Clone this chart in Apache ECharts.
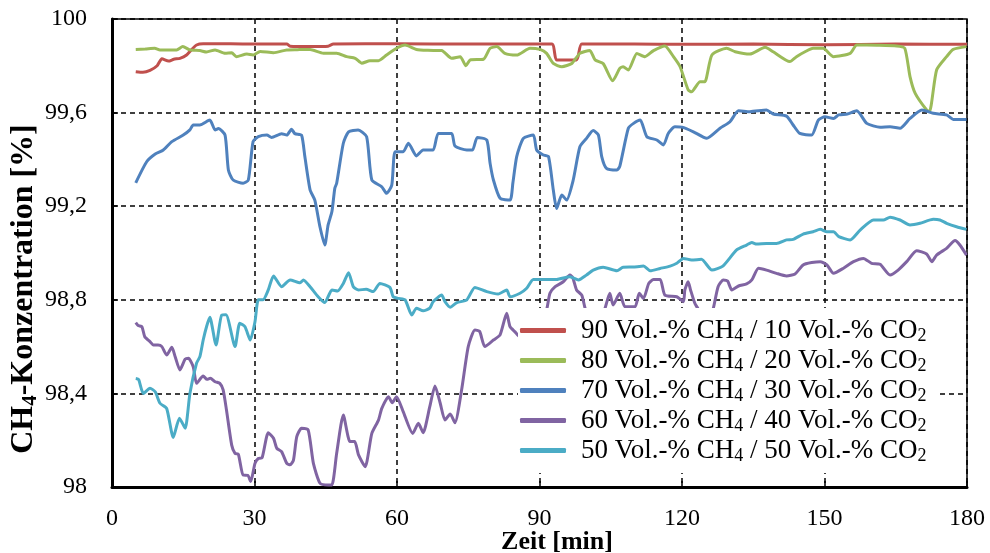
<!DOCTYPE html>
<html>
<head>
<meta charset="utf-8">
<title>CH4-Konzentration</title>
<script src="https://cdn.jsdelivr.net/npm/echarts@6/dist/echarts.min.js"></script>
<style>
  html, body { margin: 0; padding: 0; background: #fff; }
  #chart { width: 990px; height: 553px; }
</style>
</head>
<body>
<div id="chart"></div>
<script>
// Gas mixtures: CH4 share / CO2 share in Vol.-%
const ch4Share = ['90', '80', '70', '60', '50'];
const co2Share = ['10', '20', '30', '40', '50'];
const lineColors = ['#C0504D', '#9BBB59', '#4F81BD', '#8064A2', '#4BACC6'];

// Axis ticks
const xTicks = [0, 30, 60, 90, 120, 150, 180];
const yTicks = [98, 98.4, 98.8, 99.2, 99.6, 100];

// Measured CH4 concentration [%] over time [min]
const mix90 = [[5,99.775],[6.5,99.772],[8,99.78],[9.5,99.80],[10.5,99.83],[11.9,99.82],[13,99.828],[14.3,99.832],[15.7,99.846],[16.8,99.87],[17.8,99.889],[19.2,99.894],[25,99.894],[30,99.893],[36.8,99.893],[37.5,99.884],[42,99.882],[45.5,99.884],[46.6,99.893],[60,99.894],[75,99.893],[92.6,99.893],[93.6,99.825],[97.8,99.825],[98.9,99.893],[110,99.893],[120,99.892],[135,99.893],[150,99.890],[165,99.893],[180,99.892]];

const mix80 = [[5,99.870],[7,99.872],[9,99.875],[10.1,99.868],[13.6,99.868],[14.9,99.882],[16.4,99.868],[18.5,99.865],[19.9,99.859],[21.7,99.868],[23.8,99.854],[25.2,99.856],[26.2,99.839],[28.4,99.850],[29.7,99.846],[31.2,99.861],[34,99.856],[36.8,99.868],[39,99.869],[41.7,99.870],[44.5,99.854],[47.3,99.854],[49.4,99.839],[51.2,99.832],[52.6,99.811],[54.3,99.822],[56.1,99.822],[57.8,99.846],[59.9,99.875],[61.7,99.889],[64.1,99.870],[66.5,99.866],[69.4,99.865],[71.5,99.832],[73.3,99.839],[74.5,99.80],[75.4,99.825],[78.2,99.828],[79.6,99.875],[81,99.882],[82.7,99.853],[85.2,99.846],[88,99.875],[90.1,99.870],[91.5,99.853],[92.9,99.81],[94.7,99.796],[96.8,99.81],[98.5,99.853],[100.6,99.865],[101.7,99.825],[103.4,99.81],[105.4,99.736],[106.9,99.789],[107.6,99.796],[108.7,99.782],[110.5,99.853],[112.2,99.839],[114,99.865],[116.4,99.885],[118.2,99.839],[119.6,99.796],[121.3,99.697],[122,99.689],[123.8,99.732],[124.8,99.732],[126.3,99.846],[129.4,99.875],[131.2,99.860],[134.3,99.850],[137.5,99.879],[139.2,99.860],[142.7,99.818],[144.1,99.839],[145.9,99.86],[147.6,99.875],[149.7,99.875],[151.9,99.839],[155.4,99.853],[156.8,99.889],[161,99.888],[165.2,99.885],[166.9,99.875],[168,99.754],[169.1,99.682],[171.5,99.611],[172.1,99.604],[173.6,99.782],[175.7,99.839],[177.1,99.870],[179.9,99.882]];

const mix70 = [[5,99.30],[7.3,99.39],[9.1,99.423],[10.8,99.44],[12.6,99.476],[15,99.504],[16.4,99.526],[17.1,99.547],[18.5,99.547],[20.6,99.568],[21.7,99.526],[22.4,99.532],[23.8,99.504],[24.5,99.355],[25.5,99.312],[27.6,99.298],[28.7,99.312],[29.7,99.476],[30.8,99.497],[32.6,99.504],[33.6,99.494],[35.7,99.51],[36.8,99.504],[37.8,99.529],[38.5,99.51],[39.9,99.504],[40.6,99.412],[41.7,99.27],[42.7,99.226],[43.8,99.11],[44.8,99.034],[45.5,99.12],[46.3,99.177],[46.9,99.276],[47.3,99.298],[48.7,99.469],[49.8,99.518],[51.8,99.526],[53.6,99.497],[54.7,99.312],[56.8,99.283],[57.8,99.255],[58.9,99.29],[59.6,99.433],[61.3,99.433],[62.4,99.469],[64.1,99.415],[65.5,99.44],[67.6,99.44],[68.7,99.511],[71.5,99.511],[72.2,99.457],[74.7,99.44],[75.9,99.44],[76.9,99.494],[78.9,99.483],[79.6,99.383],[80.3,99.312],[81.7,99.234],[83.8,99.226],[84.4,99.30],[85.2,99.412],[86.6,99.49],[88.7,99.504],[89.4,99.44],[90.8,99.419],[91.9,99.412],[92.9,99.27],[93.6,99.19],[94.7,99.248],[95.7,99.226],[97.1,99.312],[98.5,99.454],[99.9,99.49],[101.3,99.523],[102.4,99.504],[103.1,99.412],[104.1,99.362],[106.3,99.355],[106.9,99.37],[108.7,99.533],[109.8,99.554],[111.2,99.568],[112.6,99.497],[114.7,99.483],[116.1,99.462],[117.1,99.511],[118.5,99.54],[120,99.538],[122.4,99.518],[125.2,99.49],[128,99.533],[130.1,99.561],[131.9,99.608],[134.3,99.604],[137.8,99.611],[139.2,99.594],[142,99.585],[143.4,99.547],[144.8,99.511],[147.3,99.504],[148.7,99.568],[150.1,99.582],[151.9,99.575],[153,99.59],[154.8,99.594],[156.8,99.608],[158.9,99.554],[161.7,99.537],[163.8,99.54],[165.9,99.533],[168,99.575],[170.5,99.611],[172.9,99.597],[175.7,99.59],[177.1,99.571],[179.9,99.571]];

const mix60 = [[5,98.702],[5.5,98.69],[6.3,98.685],[6.9,98.642],[8,98.621],[8.7,98.607],[9.7,98.607],[10.5,98.60],[11.5,98.564],[12.6,98.597],[13.3,98.557],[14.3,98.50],[15.4,98.546],[16.1,98.55],[17.1,98.514],[17.8,98.443],[19.2,98.474],[20,98.46],[20.7,98.465],[21.7,98.45],[22.7,98.443],[23.4,98.415],[24.1,98.329],[25.2,98.179],[25.9,98.144],[26.6,98.14],[27.6,98.051],[28.6,98.05],[29.2,98.023],[30.1,98.101],[30.8,98.122],[31.6,98.125],[32.9,98.232],[34,98.208],[34.7,98.165],[35.7,98.151],[36.8,98.101],[37.5,98.095],[38.2,98.115],[38.9,98.215],[39.9,98.251],[41.3,98.244],[42.4,98.101],[43.8,98.016],[45.5,98.009],[46.3,98.009],[47.3,98.144],[48.7,98.308],[50.1,98.194],[51.1,98.194],[51.9,98.137],[53.3,98.087],[54.7,98.229],[56.1,98.286],[56.8,98.336],[58.2,98.386],[59,98.36],[59.9,98.386],[61.3,98.322],[63.3,98.229],[64.5,98.272],[65.5,98.232],[66.9,98.343],[68,98.432],[69.1,98.358],[70.1,98.286],[71.2,98.312],[72.2,98.275],[73.6,98.415],[75,98.60],[76.4,98.671],[77.4,98.665],[78.5,98.60],[80.3,98.628],[81.7,98.65],[83.1,98.742],[83.8,98.685],[84.8,98.664],[85.9,98.642],[87.5,98.67],[89.1,98.706],[90.1,98.735],[91.3,98.742],[92.2,98.828],[93.3,98.856],[95,98.877],[96.4,98.906],[97,98.895],[97.8,98.842],[98.9,98.82],[99.6,98.764],[100.6,98.72],[102,98.71],[103.2,98.73],[103.8,98.764],[104.8,98.828],[105.5,98.778],[106.9,98.828],[108,98.77],[110.1,98.77],[111,98.828],[111.9,98.806],[113,98.87],[114,98.887],[115.4,98.887],[116.4,98.82],[118.9,98.813],[120.3,98.792],[120.6,98.842],[121.3,98.877],[121.8,98.842],[122.7,98.785],[123.4,98.76],[124.5,98.70],[125.8,98.72],[126.6,98.764],[127.6,98.856],[128.7,98.885],[129.6,98.88],[130.5,98.842],[131.9,98.859],[133.6,98.868],[134.7,98.885],[136.1,98.935],[137.8,98.927],[139.9,98.913],[142,98.902],[143.8,98.91],[145.5,98.949],[147.3,98.959],[149.1,98.963],[150.5,98.949],[151.9,98.913],[154,98.935],[156.1,98.963],[158.2,98.977],[159.9,98.956],[161.7,98.952],[163.8,98.906],[165.5,98.927],[167.3,98.963],[169.4,99.01],[171.5,98.996],[172.6,98.963],[173.6,98.991],[175.7,99.02],[177.5,99.053],[178.5,99.034],[179.9,98.991]];

const mix50 = [[5,98.464],[5.6,98.46],[6.6,98.40],[8,98.422],[9.1,98.407],[10.1,98.358],[11.5,98.336],[12.9,98.212],[14.2,98.294],[15.4,98.251],[16.4,98.40],[17.8,98.529],[18.5,98.557],[19.2,98.628],[19.9,98.685],[20.6,98.725],[21.9,98.607],[23.1,98.735],[24,98.736],[25.9,98.60],[26.9,98.70],[28,98.685],[29.1,98.628],[30.1,98.706],[30.8,98.80],[31.8,98.80],[32.9,98.842],[34,98.902],[35.7,98.856],[37.5,98.885],[39.6,98.873],[40.3,98.885],[41.7,98.856],[43.4,98.813],[44.8,98.788],[46.3,98.842],[47.5,98.838],[48.7,98.87],[49.8,98.916],[50.8,98.856],[51.9,98.842],[53.5,98.845],[55,98.835],[56.4,98.87],[58.5,98.853],[59.2,98.813],[60.3,98.806],[61.7,98.80],[63.1,98.735],[64.1,98.764],[65.5,98.753],[66.9,98.764],[67.6,98.792],[69.4,98.82],[70.1,98.792],[71.2,98.768],[72.6,98.788],[74.7,98.80],[76.4,98.853],[78.9,98.835],[81.3,98.825],[83.1,98.842],[83.8,98.813],[85.9,98.828],[87.3,98.849],[88.7,98.887],[91.5,98.887],[93.6,98.887],[96.4,98.899],[98.2,98.885],[99.9,98.906],[101.3,98.927],[103.4,98.939],[106.3,98.924],[107.6,98.939],[109.7,98.94],[111.9,98.944],[113.3,98.924],[115.4,98.934],[117.5,98.944],[118.9,98.956],[120.3,98.977],[122,98.97],[124.1,98.973],[126.3,98.927],[128.6,98.944],[131.5,99.013],[133.6,99.034],[134.7,99.045],[135.7,99.038],[137.8,99.041],[139.9,99.041],[142,99.056],[143.4,99.058],[145.5,99.081],[147.6,99.091],[149.1,99.101],[150.5,99.091],[151.9,99.091],[153,99.07],[155.4,99.056],[157.5,99.098],[160.3,99.141],[162.4,99.141],[163.8,99.153],[165.9,99.141],[168,99.12],[170.1,99.127],[172.9,99.144],[174.3,99.141],[175.7,99.127],[177.8,99.112],[179.9,99.101]];

const seriesData = [mix90, mix80, mix70, mix60, mix50];

const serif = '"Liberation Serif", "Times New Roman", serif';
const seriesNames = ch4Share.map((c, i) => c + ' Vol.-% CH4 / ' + co2Share[i] + ' Vol.-% CO2');

const chart = echarts.init(document.getElementById('chart'), null, { renderer: 'canvas' });

chart.setOption({
  animation: false,
  backgroundColor: '#fff',
  grid: {
    left: 112, right: 23, top: 19, bottom: 66,
    show: true, borderColor: '#000', borderWidth: 1.5, backgroundColor: 'transparent'
  },
  xAxis: {
    type: 'value', min: xTicks[0], max: xTicks[xTicks.length - 1], interval: 30,
    axisLine: { show: true, onZero: false, lineStyle: { color: '#000', width: 3 } },
    axisTick: { show: true, inside: true, length: 6, lineStyle: { color: '#000', width: 1.5 } },
    axisLabel: { color: '#000', fontFamily: serif, fontSize: 24, margin: 20 },
    splitLine: { show: true, lineStyle: { color: '#000', width: 1.5, type: [5, 4] } }
  },
  yAxis: {
    type: 'value', min: yTicks[0], max: yTicks[yTicks.length - 1], interval: 0.4,
    axisLine: { show: true, lineStyle: { color: '#000', width: 3 } },
    axisTick: { show: true, inside: true, length: 6, lineStyle: { color: '#000', width: 1.5 } },
    axisLabel: {
      color: '#000', fontFamily: serif, fontSize: 24, margin: 25,
      formatter: v => String(Math.round(v * 10) / 10).replace('.', ',')
    },
    splitLine: { show: true, lineStyle: { color: '#000', width: 1.5, type: [5, 4] } }
  },
  legend: {
    orient: 'vertical',
    left: 518, top: 308,
    padding: [9, 12, 8, 2],
    backgroundColor: '#fff',
    itemWidth: 46, itemHeight: 5, itemGap: 2, itemTextGap: 20,
    icon: 'roundRect',
    data: seriesNames,
    formatter: name => {
      const i = seriesNames.indexOf(name);
      return '{p|' + ch4Share[i] + ' Vol.-% CH}{s|4}{a| / ' + co2Share[i] + ' Vol.-% CO}{s|2}';
    },
    textStyle: {
      color: '#000',
      rich: {
        p: { fontFamily: serif, fontSize: 27, lineHeight: 29, color: '#000', padding: [0, 0, 0, 10] },
        a: { fontFamily: serif, fontSize: 27, lineHeight: 29, color: '#000' },
        s: { fontFamily: serif, fontSize: 18, lineHeight: 12, verticalAlign: 'bottom', color: '#000' }
      }
    }
  },
  graphic: [
    {
      type: 'text', x: 24, y: 289, rotation: Math.PI / 2, z: 10,
      style: {
        text: '{b|CH}{s|4}{b|-Konzentration [%]}',
        align: 'center', verticalAlign: 'middle',
        rich: {
          b: { fontFamily: serif, fontWeight: 'bold', fontSize: 32, lineHeight: 34, fill: '#000' },
          s: { fontFamily: serif, fontWeight: 'bold', fontSize: 21, lineHeight: 14, verticalAlign: 'bottom', fill: '#000' }
        }
      }
    },
    {
      type: 'text', x: 557, y: 542, z: 10,
      style: {
        text: 'Zeit [min]', align: 'center', verticalAlign: 'middle',
        fontFamily: serif, fontWeight: 'bold', fontSize: 26, fill: '#000'
      }
    }
  ],
  series: seriesNames.map((name, i) => ({
    name: name,
    type: 'line',
    data: seriesData[i],
    showSymbol: false,
    smooth: 0.2,
    clip: true,
    color: lineColors[i],
    lineStyle: { color: lineColors[i], width: 3 },
    z: 2
  }))
});
</script>
</body>
</html>
